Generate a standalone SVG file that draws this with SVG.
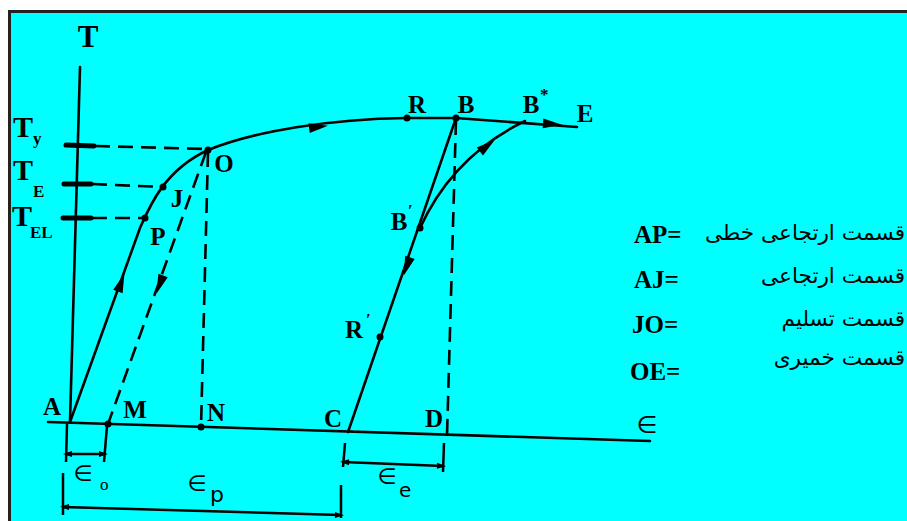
<svg xmlns="http://www.w3.org/2000/svg" xmlns:xlink="http://www.w3.org/1999/xlink" width="907" height="521" viewBox="0 0 907 521">
<defs>
<style>
.ln{fill:none;stroke:#000;stroke-width:2.6;stroke-linecap:round}
.ds{fill:none;stroke:#000;stroke-width:2.6;stroke-dasharray:15 8}
.tk{stroke:#000;stroke-width:5;stroke-linecap:round}
.br{fill:none;stroke:#000;stroke-width:2.5}
.lb{font-family:"Liberation Serif",serif;font-weight:bold;font-size:25px;fill:#000}
.sb{font-family:"Liberation Serif",serif;font-weight:bold;font-size:17px;fill:#000}
.ep{font-family:"DejaVu Sans",sans-serif;font-size:24px;fill:#000}
.fa{font-family:"DejaVu Sans","Noto Sans",sans-serif;font-size:21.6px;fill:#000}
.dot{fill:#000}
</style>
<path id="ah" d="M10,0 L-9,-5 L-9,5 Z" fill="#000"/>
<path id="sa" d="M5,0 L-4,-3 L-4,3 Z" fill="#000"/>
</defs>
<rect x="9.5" y="11.5" width="910" height="520" fill="#00FFFF" stroke="#222" stroke-width="3"/>

<g id="axes">
<line class="ln" x1="80" y1="67" x2="70" y2="422"/>
<line class="ln" x1="48" y1="422" x2="650" y2="441"/>
<line class="tk" x1="66" y1="145" x2="94" y2="146"/>
<line class="tk" x1="64" y1="184" x2="91" y2="184"/>
<line class="tk" x1="63" y1="218" x2="91" y2="218"/>
</g>

<g id="connectors">
<path class="ln" d="M70,422 L140,228 C150,205 165,170 208,150"/>
<path class="ln" d="M208,150 C255,131 330,119 407,118 L456,118 L577,127"/>
<line class="ln" x1="456" y1="118" x2="348" y2="432"/>
<path class="ln" d="M420,228 C435,195 465,150 525,121"/>
<line class="ds" x1="95" y1="146" x2="206" y2="149"/>
<line class="ds" x1="92" y1="184" x2="163" y2="187"/>
<line class="ds" x1="92" y1="218" x2="145" y2="218"/>
<line class="ds" x1="208" y1="152" x2="201" y2="427"/>
<line class="ds" x1="206" y1="152" x2="108" y2="424"/>
<line class="ds" x1="456" y1="120" x2="447" y2="436"/>
<use xlink:href="#ah" href="#ah" transform="translate(318,127) rotate(-7)"/>
<use xlink:href="#ah" href="#ah" transform="translate(552,124) rotate(4)"/>
<use xlink:href="#ah" href="#ah" transform="translate(121,283) rotate(-70)"/>
<use xlink:href="#ah" href="#ah" transform="translate(160,284) rotate(110)"/>
<use xlink:href="#ah" href="#ah" transform="translate(407,266) rotate(109)"/>
<use xlink:href="#ah" href="#ah" transform="translate(487,146) rotate(-38)"/>
</g>

<g id="points">
<circle class="dot" cx="145" cy="218" r="3.5"/>
<circle class="dot" cx="163" cy="187" r="3.5"/>
<circle class="dot" cx="208" cy="150" r="3.5"/>
<circle class="dot" cx="108" cy="424" r="3.5"/>
<circle class="dot" cx="201" cy="427" r="3.5"/>
<circle class="dot" cx="407" cy="118" r="3.5"/>
<circle class="dot" cx="456" cy="118" r="3.5"/>
<circle class="dot" cx="420" cy="228" r="3.5"/>
<circle class="dot" cx="380" cy="337" r="3.5"/>
</g>

<g id="brackets">
<line class="br" x1="67" y1="424" x2="66" y2="462"/>
<line class="br" x1="107" y1="426" x2="104" y2="462"/>
<line class="br" x1="67" y1="454" x2="104" y2="454"/>
<use xlink:href="#sa" href="#sa" transform="translate(68,454) rotate(180)"/>
<use xlink:href="#sa" href="#sa" transform="translate(103,454)"/>
<line class="br" x1="63" y1="473" x2="63" y2="515"/>
<line class="br" x1="341" y1="485" x2="341" y2="518"/>
<line class="br" x1="63" y1="507" x2="341" y2="515"/>
<use xlink:href="#sa" href="#sa" transform="translate(65,507) rotate(181.6)"/>
<use xlink:href="#sa" href="#sa" transform="translate(339,515) rotate(1.6)"/>
<line class="br" x1="345" y1="443" x2="343" y2="467"/>
<line class="br" x1="444" y1="443" x2="443" y2="472"/>
<line class="br" x1="343" y1="462" x2="443" y2="466"/>
<use xlink:href="#sa" href="#sa" transform="translate(345,462) rotate(182.3)"/>
<use xlink:href="#sa" href="#sa" transform="translate(441,466) rotate(2.3)"/>
</g>

<g id="labels">
<text class="lb" x="88" y="47" text-anchor="middle" style="font-size:31px">T</text>
<text class="lb" x="13" y="137" style="font-size:30px">T</text><text class="sb" x="33" y="144">y</text>
<text class="lb" x="13" y="180" style="font-size:30px">T</text><text class="sb" x="33" y="197">E</text>
<text class="lb" x="12" y="226" style="font-size:30px">T</text><text class="sb" x="30" y="238">EL</text>
<text class="lb" x="224" y="172" text-anchor="middle">O</text>
<text class="lb" x="177" y="207" text-anchor="middle">J</text>
<text class="lb" x="158" y="245" text-anchor="middle">P</text>
<text class="lb" x="52" y="415" text-anchor="middle">A</text>
<text class="lb" x="135" y="418" text-anchor="middle">M</text>
<text class="lb" x="216" y="421" text-anchor="middle">N</text>
<text class="lb" x="333" y="427" text-anchor="middle">C</text>
<text class="lb" x="434" y="427" text-anchor="middle">D</text>
<text class="lb" x="417" y="113" text-anchor="middle">R</text>
<text class="lb" x="466" y="113" text-anchor="middle">B</text>
<text class="lb" x="531" y="113" text-anchor="middle">B</text><text class="sb" x="540" y="100">*</text>
<text class="lb" x="585" y="122" text-anchor="middle">E</text>
<text class="lb" x="399" y="230" text-anchor="middle">B</text><text class="sb" x="408" y="216">′</text>
<text class="lb" x="354" y="338" text-anchor="middle">R</text><text class="sb" x="366" y="325">′</text>
<text class="ep" x="647" y="433" text-anchor="middle">∈</text>
<text class="ep" x="83" y="481" text-anchor="middle" style="font-size:22px">∈</text><text class="sb" x="100" y="490" style="font-weight:normal">o</text>
<text class="ep" x="197" y="491" text-anchor="middle" style="font-size:22px">∈</text><text class="ep" x="210" y="502" style="font-size:22px">p</text>
<text class="ep" x="387" y="484" text-anchor="middle" style="font-size:22px">∈</text><text class="ep" x="399" y="497" style="font-size:20px">e</text>
</g>

<g id="legend">
<text class="lb" x="634" y="243">AP=</text>
<text class="lb" x="634" y="288">AJ=</text>
<text class="lb" x="632" y="333">JO=</text>
<text class="lb" x="630" y="380">OE=</text>
<text class="fa" x="905" y="240" text-anchor="end">قسمت ارتجاعی خطی</text>
<text class="fa" x="905" y="283" text-anchor="end">قسمت ارتجاعی</text>
<text class="fa" x="905" y="326" text-anchor="end">قسمت تسلیم</text>
<text class="fa" x="905" y="365" text-anchor="end">قسمت خمیری</text>
</g>
</svg>
